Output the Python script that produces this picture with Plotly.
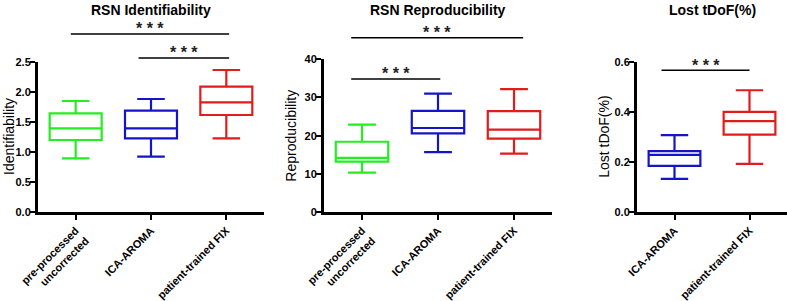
import plotly.graph_objects as go

# ---------------- data ----------------
categories3 = ["pre-processed<br>uncorrected", "ICA-AROMA", "patient-trained FIX"]
categories2 = ["ICA-AROMA", "patient-trained FIX"]

ident_lower = [0.895, 0.922, 1.228]
ident_q1 = [1.20, 1.228, 1.617]
ident_median = [1.395, 1.395, 1.828]
ident_q3 = [1.645, 1.688, 2.088]
ident_upper = [1.85, 1.883, 2.367]

repro_lower = [10.3, 15.7, 15.3]
repro_q1 = [13.2, 20.6, 19.2]
repro_median = [14.2, 22.0, 21.6]
repro_q3 = [18.4, 26.5, 26.4]
repro_upper = [22.9, 31.0, 32.2]

tdof_lower = [0.132, 0.192]
tdof_q1 = [0.184, 0.309]
tdof_median = [0.228, 0.363]
tdof_q3 = [0.243, 0.400]
tdof_upper = [0.307, 0.486]

colors3 = ["#22ee22", "#1414c8", "#e01c1c"]
colors2 = ["#1414c8", "#e01c1c"]

panel_titles = ["RSN Identifiability", "RSN Reproducibility", "Lost tDoF(%)"]
y_titles = ["Identifiability", "Reproducibility", "Lost tDoF(%)"]

ident_ticks = [0.0, 0.5, 1.0, 1.5, 2.0, 2.5]
repro_ticks = [0, 10, 20, 30, 40]
tdof_ticks = [0.0, 0.2, 0.4, 0.6]

FONT = "Liberation Sans, Arial, sans-serif"

fig = go.Figure()


def add_boxes(cats, cols, lo, q1, med, q3, hi, xa, ya):
    for i, c in enumerate(cats):
        fig.add_trace(go.Box(
            x=[c], lowerfence=[lo[i]], q1=[q1[i]], median=[med[i]],
            q3=[q3[i]], upperfence=[hi[i]],
            line=dict(color=cols[i], width=2.2),
            fillcolor="rgba(0,0,0,0)",
            width=0.69, whiskerwidth=0.53,
            boxpoints=False, showlegend=False,
            xaxis=xa, yaxis=ya,
        ))


add_boxes(categories3, colors3, ident_lower, ident_q1, ident_median, ident_q3, ident_upper, "x", "y")
add_boxes(categories3, colors3, repro_lower, repro_q1, repro_median, repro_q3, repro_upper, "x2", "y2")
add_boxes(categories2, colors2, tdof_lower, tdof_q1, tdof_median, tdof_q3, tdof_upper, "x3", "y3")

W, H = 787, 301
xdoms = [[38 / W, 264 / W], [324 / W, 552 / W], [637 / W, 1.0]]
ydoms = [[(H - 212) / H, (H - 62) / H], [(H - 212) / H, (H - 59.3) / H], [(H - 212) / H, (H - 61.7) / H]]
ytitle_x = [9 / W, 291 / W, 604 / W]
yranges = [[0, 2.5], [0, 40], [0, 0.6]]
ytickvals = [ident_ticks, repro_ticks, tdof_ticks]
yticktext = [["%.1f" % v for v in ident_ticks], [str(v) for v in repro_ticks], ["%.1f" % v for v in tdof_ticks]]
xcats = [categories3, categories3, categories2]

axis_common = dict(
    showline=True, linecolor="black", linewidth=3,
    ticks="outside", ticklen=5, tickwidth=2, tickcolor="black",
    showgrid=False, zeroline=False, fixedrange=True, automargin=False,
)

layout = dict(
    width=W, height=H,
    margin=dict(l=0, r=0, t=0, b=0),
    paper_bgcolor="white", plot_bgcolor="white",
    font=dict(family=FONT, color="black"),
    showlegend=False,
)
for i in range(3):
    sx = "" if i == 0 else str(i + 1)
    layout["xaxis" + sx] = dict(
        axis_common, domain=xdoms[i], anchor="y" + sx,
        type="category", categoryorder="array", categoryarray=xcats[i],
        range=[-0.5, len(xcats[i]) - 0.5],
        tickangle=-45, tickfont=dict(family=FONT, size=11, weight="bold", color="black"),
    )
    layout["yaxis" + sx] = dict(
        axis_common, domain=ydoms[i], anchor="x" + sx,
        range=yranges[i], tickvals=ytickvals[i], ticktext=yticktext[i],
        ticklabelstandoff=-3,
        tickfont=dict(family=FONT, size=11, weight="bold", color="black"),
    )
fig.update_layout(**layout)

# panel titles and y-axis titles
for i in range(3):
    sx = "" if i == 0 else str(i + 1)
    fig.add_annotation(
        text="<b>%s</b>" % panel_titles[i], xref="x%s domain" % sx, yref="paper",
        x=0.5, y=1 - 9.5 / H, xanchor="center", yanchor="middle", showarrow=False,
        font=dict(family=FONT, size=14, color="black"),
    )
    fig.add_annotation(
        text=y_titles[i], xref="paper", yref="y%s domain" % sx,
        x=ytitle_x[i], y=0.5, xanchor="center", yanchor="middle", textangle=-90,
        borderpad=0, showarrow=False, font=dict(family=FONT, size=14, color="black"),
    )

# significance bars: (axis suffix, x0, x1, y in y-domain units)
sig_bars = [
    ("", -0.064, 2.037, 1.187),
    ("", 0.835, 2.037, 1.027),
    ("2", -0.142, 2.12, 1.141),
    ("2", -0.142, 1.03, 0.871),
    ("3", -0.173, 1.0, 0.943),
]
for sx, x0, x1, yy in sig_bars:
    fig.add_shape(type="line", xref="x" + sx, yref="y%s domain" % sx,
                  x0=x0, x1=x1, y0=yy, y1=yy, line=dict(color="black", width=1.5))
    fig.add_annotation(text="<b>* * *</b>", xref="x" + sx, yref="y%s domain" % sx,
                       x=(x0 + x1) / 2, y=yy, xanchor="center", yanchor="middle",
                       yshift=5, showarrow=False,
                       font=dict(family=FONT, size=16, color="#222222"))

fig.write_html(
    "out.html",
    config={"displayModeBar": False},
    post_script="document.body.style.margin='0';document.body.style.overflow='hidden';",
)
